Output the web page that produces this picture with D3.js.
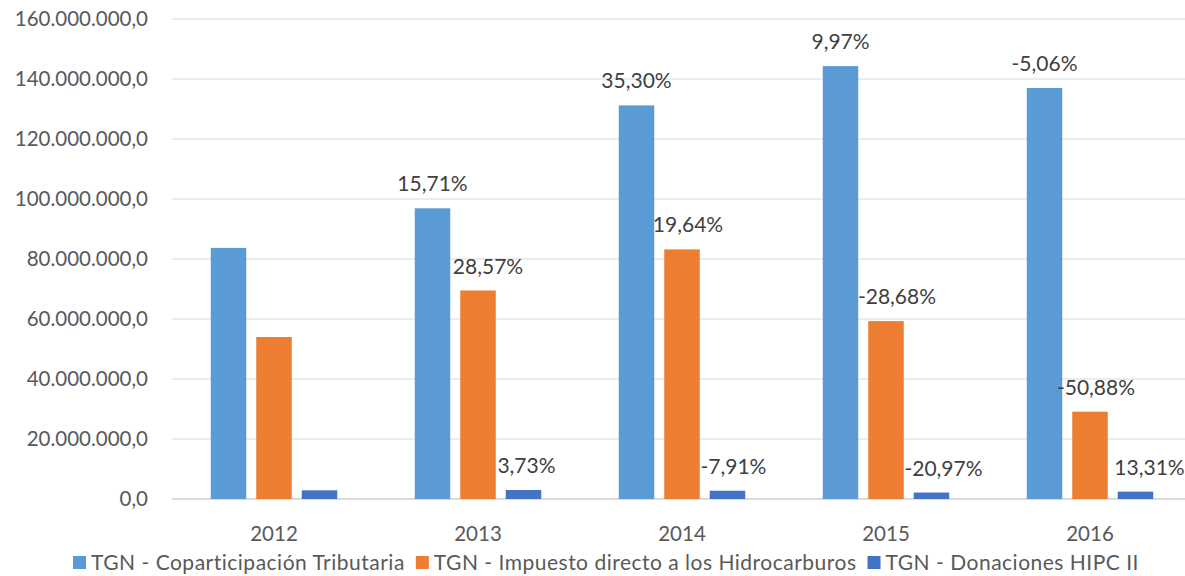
<!DOCTYPE html>
<html>
<head>
<meta charset="utf-8">
<script src="https://cdn.jsdelivr.net/npm/d3@7.9.0/dist/d3.min.js"></script>
<style>
  body { margin: 0; background: #fff; }
  svg { display: block; font-family: Lato, 'Open Sans', sans-serif; }
</style>
</head>
<body>
<svg id="chart" width="1185" height="576"></svg>
<script>
const years = ['2012', '2013', '2014', '2015', '2016'];
const seriesNames = [
  'TGN - Coparticipación Tributaria',
  'TGN - Impuesto directo a los Hidrocarburos',
  'TGN - Donaciones HIPC II'
];
const coparticipacion = [83.7e6, 96.9e6, 131.2e6, 144.3e6, 137.0e6];
const hidrocarburos = [54.0e6, 69.5e6, 83.2e6, 59.3e6, 29.1e6];
const donaciones = [2.9e6, 3.0e6, 2.75e6, 2.15e6, 2.45e6];
const pctCopart = [null, '15,71%', '35,30%', '9,97%', '-5,06%'];
const pctHidro = [null, '28,57%', '19,64%', '-28,68%', '-50,88%'];
const pctDon = [null, '3,73%', '-7,91%', '-20,97%', '13,31%'];
const yTicks = [0, 20e6, 40e6, 60e6, 80e6, 100e6, 120e6, 140e6, 160e6];

const colors = ['#5B9BD5', '#ED7D31', '#4472C4'];
// small horizontal nudges of the % labels, like the original layout
const labelDx = [
  [0, 0, 0, 0, 0],
  [0, 10, 6, 11, 6],
  [0, 3, 6, 12, 14]
];

const allValues = [coparticipacion, hidrocarburos, donaciones];
const allPcts = [pctCopart, pctHidro, pctDon];

const svg = d3.select('#chart');

const x0 = d3.scaleBand().domain(years).range([172, 1192])
  .paddingInner(0.38).paddingOuter(0.19);
const x1 = d3.scaleBand().domain(d3.range(3)).range([0, x0.bandwidth()])
  .paddingInner(0.22);
const y = d3.scaleLinear().domain([0, 160e6]).range([499, 19]);

const fmt = d3.formatLocale({ decimal: ',', thousands: '.', grouping: [3], currency: ['', ''] })
  .format(',.1f');

// gridlines
svg.append('g')
  .selectAll('line')
  .data(yTicks)
  .join('line')
  .attr('x1', 172).attr('x2', 1185)
  .attr('y1', (d) => y(d)).attr('y2', (d) => y(d))
  .attr('stroke', (d) => d === 0 ? '#d0d0d0' : '#d9d9d9')
  .attr('stroke-width', (d) => d === 0 ? 1.5 : 1.2);

// y labels
svg.append('g')
  .selectAll('text')
  .data(yTicks)
  .join('text')
  .attr('x', 148)
  .attr('y', (d) => y(d))
  .attr('dy', '0.36em')
  .attr('text-anchor', 'end')
  .attr('fill', '#595959')
  .style('font-size', '20.5px')
  .text((d) => fmt(d));

// bars
const groups = svg.append('g')
  .selectAll('g')
  .data(years)
  .join('g')
  .attr('transform', (d) => `translate(${x0(d)},0)`);

groups.selectAll('rect')
  .data((d, i) => allValues.map((s, k) => ({ k, v: s[i] })))
  .join('rect')
  .attr('x', (d) => x1(d.k))
  .attr('width', x1.bandwidth())
  .attr('y', (d) => y(d.v))
  .attr('height', (d) => y(0) - y(d.v))
  .attr('fill', (d) => colors[d.k]);

// % labels
groups.selectAll('text')
  .data((d, i) => allPcts.map((s, k) => ({ k, i, t: s[i], v: allValues[k][i] })).filter((d) => d.t))
  .join('text')
  .attr('x', (d) => x1(d.k) + x1.bandwidth() / 2 + labelDx[d.k][d.i])
  .attr('y', (d) => y(d.v) - 17)
  .attr('text-anchor', 'middle')
  .attr('fill', '#404040')
  .style('font-size', '21px')
  .text((d) => d.t);

// x labels
svg.append('g')
  .selectAll('text')
  .data(years)
  .join('text')
  .attr('x', (d) => x0(d) + x0.bandwidth() / 2)
  .attr('y', 541)
  .attr('text-anchor', 'middle')
  .attr('fill', '#595959')
  .style('font-size', '20.5px')
  .text((d) => d);

// legend
const legend = svg.append('g');
let lx = 0;
seriesNames.forEach((name, k) => {
  const item = legend.append('g').attr('transform', `translate(${lx},0)`);
  item.append('rect')
    .attr('x', 0).attr('y', 556)
    .attr('width', 13).attr('height', 13)
    .attr('fill', colors[k]);
  const t = item.append('text')
    .attr('x', 18).attr('y', 570)
    .attr('fill', '#595959')
    .style('font-size', '21px')
    .style('letter-spacing', '0.5px')
    .text(name);
  lx += 18 + t.node().getComputedTextLength() + 11;
});
const legendW = lx - 11;
legend.attr('transform', `translate(${606 - legendW / 2},0)`);
</script>
</body>
</html>
